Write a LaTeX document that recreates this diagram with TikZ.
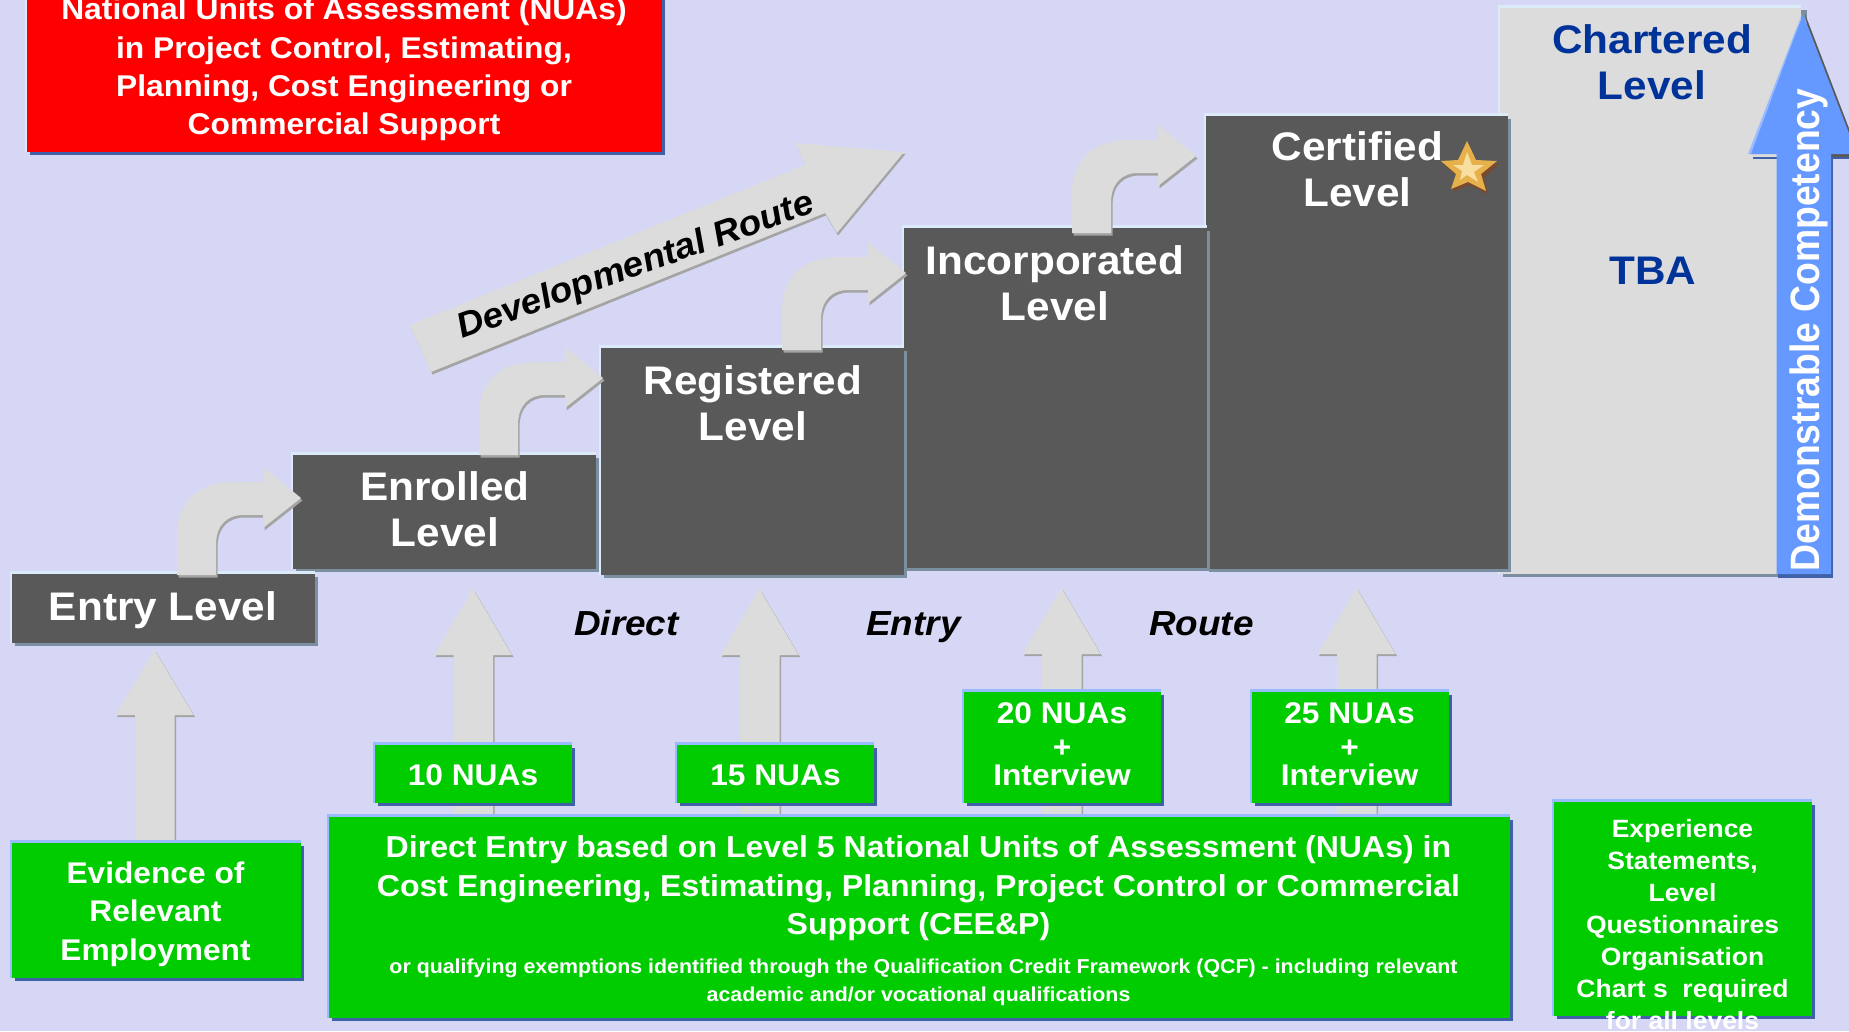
\documentclass[tikz,border=0pt]{standalone}
\usepackage{fontspec}
\setmainfont{Liberation Sans}[FakeStretch=1.06]
\newfontfamily\plainarial{Liberation Sans}
\definecolor{bgc}{HTML}{D6D7F5}
\definecolor{darkc}{HTML}{595959}
\definecolor{steel}{HTML}{7B8FA0}
\definecolor{hlight}{HTML}{DCEBFA}
\definecolor{greyc}{HTML}{DCDCDC}
\definecolor{greyedge}{HTML}{A4A4A4}
\definecolor{greenc}{HTML}{00CC00}
\definecolor{bluehl}{HTML}{99BBFF}
\definecolor{blueshadow}{HTML}{4060A8}
\definecolor{navy}{HTML}{003399}
\definecolor{arrowblue}{HTML}{6699FF}
\definecolor{stargold}{HTML}{E6B04A}
\definecolor{starlight}{HTML}{F8DFA0}
\definecolor{starbrown}{HTML}{7A4A30}
\tikzset{
  boxnode/.style={inner sep=0pt,outer sep=0pt,anchor=north west},
  lbltxt/.style={inner sep=0pt,outer sep=0pt,align=center,text=white},
  bigtxt/.style={lbltxt,font=\fontsize{39.9}{46}\selectfont\bfseries},
  greentxt/.style={lbltxt,font=\fontsize{29.9}{38.6}\selectfont\bfseries},
  smalltxt/.style={lbltxt,font=\fontsize{20.15}{28.3}\selectfont\bfseries},
  routetxt/.style={inner sep=0pt,outer sep=0pt,text=black,font=\fontsize{34.8}{40}\selectfont\bfseries\itshape},
}
% name, fill, shadow, highlight, x1,y1,x2,y2
\newcommand{\pbox}[8]{%
  \fill[#4] ({#5-2},{#6-3}) rectangle (#7,#8);
  \fill[#3] ({#5+3},{#6+3}) rectangle ({#7+3},{#8+3});
  \node (#1) [boxnode,fill=#2,minimum width={(#7-#5)*1pt},minimum height={(#8-#6)*1pt}] at (#5,#6) {};
}
% bent block arrow: left of base, base y
\newcommand{\bentshape}[2]{%
  (#1,#2) -- (#1,{#2-40}) .. controls (#1,{#2-72}) and ({#1+20},{#2-93}) .. ({#1+58},{#2-93})
  -- ({#1+86},{#2-93}) -- ({#1+86},{#2-108}) -- ({#1+124},{#2-77}) -- ({#1+86},{#2-47})
  -- ({#1+86},{#2-60}) -- ({#1+66},{#2-60}) .. controls ({#1+50},{#2-60}) and ({#1+39},{#2-50}) .. ({#1+39},{#2-30})
  -- ({#1+39},#2) -- cycle}
\newcommand{\bentarrow}[2]{%
  \fill[greyedge] [shift={(1.5,2.5)}] \bentshape{#1}{#2};
  \fill[greyc] \bentshape{#1}{#2};
}
% straight up block arrow: tip x, tip y, head back y, bottom y
\newcommand{\upblock}[4]{%
  (#1,#2) -- ({#1+39},#3) -- ({#1+20},#3) -- ({#1+20},#4) -- ({#1-19.5},#4) -- ({#1-19.5},#3) -- ({#1-39},#3) -- cycle}
\newcommand{\uparr}[4]{%
  \fill[greyedge] [shift={(1.5,2)}] \upblock{#1}{#2}{#3}{#4};
  \fill[greyc] \upblock{#1}{#2}{#3}{#4};
}
\begin{document}
\begin{tikzpicture}[x=1pt,y=-1pt]
\useasboundingbox (0,0) rectangle (1849,1031);
\fill[bgc] (0,0) rectangle (1849,1031);

% top level steps, back to front
\pbox{chartered}{greyc}{steel}{hlight}{1500}{8}{1801}{574}
\fill[blueshadow] (1833,155) -- (1833,578) -- (1778,578) -- (1778,155) -- cycle;
\fill[blueshadow] (1753,157) rectangle (1778,159);
\fill[blueshadow] (1833,157) rectangle (1849,159);
\fill[steel] (1801,10) rectangle (1807,20);
\fill[black!65] (1805,14) -- (1860,157) -- (1830,157) -- cycle;
\fill[bluehl] (1802,14) -- (1748,154) -- (1760,154) -- cycle;
\fill[arrowblue] (1803,14) -- (1857,154) -- (1831,154) -- (1831,574) -- (1776.5,574) -- (1776.5,154) -- (1751,154) -- cycle;
\begin{scope}[shift={(1809,330)},xscale=1.1]
\node (demo) [lbltxt,rotate=90,transform shape,font=\fontsize{37.3}{40}\selectfont\bfseries\plainarial] at (0,0) {Demonstrable Competency};
\end{scope}

\pbox{certified}{darkc}{steel}{hlight}{1206}{115.5}{1508}{569}
\pbox{incorporated}{darkc}{steel}{hlight}{904}{228}{1207}{568}
\pbox{registered}{darkc}{steel}{hlight}{601}{348}{904}{575}
\pbox{enrolled}{darkc}{steel}{hlight}{293}{455}{596}{569}
\pbox{entrylevel}{darkc}{steel}{hlight}{12}{574}{315}{643}
\pbox{redbox}{red}{blueshadow}{hlight}{27}{-10}{662}{152}

% developmental route arrow
\fill[greyedge] (432.5,374.5) -- (411,327) -- (806,167) -- (797,145) -- (905.5,154) -- (838,235.5) -- (826,215.5) -- cycle;
\fill[greyc] (431,372) -- (410,325) -- (805,165) -- (796,143) -- (904,152) -- (837,233) -- (825,213) -- cycle;
\begin{scope}[shift={(636,267)},xscale=1.06]
\node (devroute) [inner sep=0pt,outer sep=0pt,text=black,rotate=20.8,transform shape,font=\fontsize{35}{40}\selectfont\bfseries\itshape\plainarial] at (0,0) {Developmental Route};
\end{scope}

% bent arrows
\bentarrow{177}{575}
\bentarrow{479}{455}
\bentarrow{782}{350}
\bentarrow{1072}{233}

% straight arrows
\uparr{154.5}{650}{715}{845}
\uparr{473}{589}{655}{820}
\uparr{759.5}{589}{655}{820}
\uparr{1061.5}{588}{654}{820}
\uparr{1356.5}{588}{654}{820}

% green boxes
\pbox{evidence}{greenc}{blueshadow}{bluehl}{12}{843}{301}{978}
\pbox{directbox}{greenc}{blueshadow}{bluehl}{329}{817}{1510}{1018}
\pbox{nua10}{greenc}{blueshadow}{bluehl}{375}{745}{572}{803}
\pbox{nua15}{greenc}{blueshadow}{bluehl}{677}{745}{874}{803}
\pbox{nua20}{greenc}{blueshadow}{bluehl}{964}{692}{1161}{803}
\pbox{nua25}{greenc}{blueshadow}{bluehl}{1252}{692}{1449}{803}
\pbox{experience}{greenc}{blueshadow}{bluehl}{1554}{802}{1812}{1016}

% star
\fill[starbrown] (1468,144) -- (1478,163) -- (1499,164) -- (1484,178) -- (1488,194) -- (1469,185) -- (1453,192) -- (1458,177) -- (1443,164) -- (1460,163) -- cycle;
\fill[stargold] (1467,141) -- (1476,160) -- (1497,161) -- (1481,174) -- (1486,191) -- (1468,182) -- (1451,189) -- (1456,174) -- (1441,161) -- (1458,160) -- cycle;
\fill[starlight] (1467,152) -- (1472,165) -- (1484,165) -- (1474,172) -- (1478,182) -- (1467,175) -- (1460,180) -- (1462,171) -- (1453,165) -- (1463,165) -- cycle;

% texts
\node (tred) [lbltxt,font=\fontsize{30}{38.4}\selectfont\bfseries] at (344,69.5) {National Units of Assessment (NUAs)\\in Project Control, Estimating,\\Planning, Cost Engineering or\\Commercial Support};
\node (tchartered) [bigtxt,text=navy] at (1652,62) {Chartered\\Level};
\node (ttba) [bigtxt,text=navy] at (1653,271) {TBA};
\node (tcertified) [bigtxt] at (1357.5,169) {Certified\\Level};
\node (tincorporated) [bigtxt] at (1055,283) {Incorporated\\Level};
\node (tregistered) [bigtxt] at (753,403) {Registered\\Level};
\node (tenrolled) [bigtxt] at (445,509) {Enrolled\\Level};
\node (tentry) [bigtxt] at (163,610) {Entry Level};
\node (tdirect) [routetxt] at (626.5,623) {Direct};
\node (tentryr) [routetxt] at (913.5,627) {Entry};
\node (troute) [routetxt] at (1201.5,624) {Route};
\node (tevidence) [greentxt] at (155.5,914) {Evidence of\\Relevant\\Employment};
\node (t10) [greentxt] at (473,775) {10 NUAs};
\node (t15) [greentxt] at (775.5,775) {15 NUAs};
\node (t20) [lbltxt,font=\fontsize{29.9}{34}\selectfont\bfseries] at (1062,744.5) {20 NUAs\\+\\[-6pt]Interview};
\node (t25) [lbltxt,font=\fontsize{29.9}{34}\selectfont\bfseries] at (1349.5,744.5) {25 NUAs\\+\\[-6pt]Interview};
\node (tdirectmain) [greentxt,font=\fontsize{30.25}{38.6}\selectfont\bfseries] at (918.5,888.5) {Direct Entry based on Level 5 National Units of Assessment (NUAs) in\\Cost Engineering, Estimating, Planning, Project Control or Commercial\\Support (CEE\&P)};
\node (tdirectsmall) [smalltxt] at (918.5,982) {\hspace*{10pt}or qualifying exemptions identified through the Qualification Credit Framework (QCF) - including relevant\\academic and/or vocational qualifications};
\node (texperience) [lbltxt,font=\fontsize{25}{32}\selectfont\bfseries] at (1682.5,925) {Experience\\Statements,\\Level\\Questionnaires\\Organisation\\Chart s\ \ required\\for all levels};
\end{tikzpicture}
\end{document}
